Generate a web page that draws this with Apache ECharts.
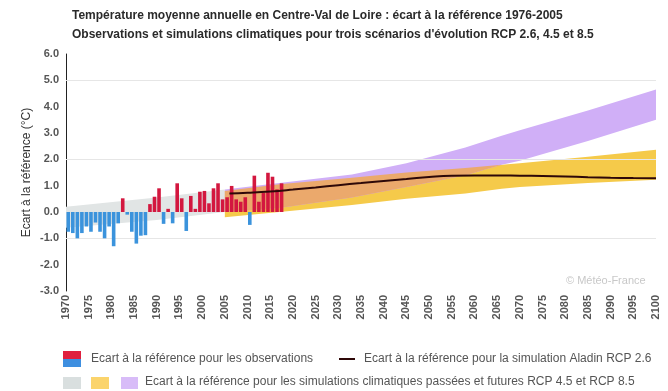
<!DOCTYPE html>
<html>
<head>
<meta charset="utf-8">
<script src="https://cdn.jsdelivr.net/npm/echarts@6/dist/echarts.min.js"></script>
<style>html,body{margin:0;padding:0;background:#fff}#c{width:668px;height:391px}</style>
</head>
<body>
<div id="c"></div>
<script>
// ---------- data ----------
const obsYears = [1970,1971,1972,1973,1974,1975,1976,1977,1978,1979,
  1980,1981,1982,1983,1984,1985,1986,1987,1988,1989,
  1990,1991,1992,1993,1994,1995,1996,1997,1998,1999,
  2000,2001,2002,2003,2004,2005,2006,2007,2008,2009,
  2010,2011,2012,2013,2014,2015,2016,2017];
const obsValues = [-0.75,-0.8,-1.0,-0.8,-0.55,-0.75,-0.4,-0.75,-1.0,-0.55,
  -1.3,-0.43,0.52,-0.1,-0.75,-1.2,-0.9,-0.88,0.3,0.58,
  0.9,-0.45,0.12,-0.43,1.09,0.52,-0.72,0.61,0.12,0.77,
  0.8,0.33,0.9,1.09,0.48,0.56,0.99,0.48,0.39,0.56,
  -0.49,1.38,0.39,0.72,1.49,1.34,0.86,1.09];

const histYears = [1970, 1990, 2005];
const histLow   = [-0.6, -0.3, 0.0];
const histHigh  = [0.2, 0.55, 0.85];

const scenYears = [2005, 2017, 2033, 2045, 2058, 2066, 2070, 2085, 2100];
const rcp45Low  = [-0.2, 0.0, 0.27, 0.5, 0.7, 0.88, 0.95, 1.1, 1.22];
const rcp45High = [0.8, 1.05, 1.3, 1.5, 1.67, 1.79, 1.85, 2.1, 2.36];
const rcp85Low  = [0.0, 0.15, 0.55, 0.95, 1.4, 1.79, 1.95, 2.7, 3.5];
const rcp85High = [0.85, 1.1, 1.42, 1.85, 2.45, 2.9, 3.1, 3.85, 4.65];

const aladinYears  = [2006,2010,2015,2020,2025,2030,2035,2040,2045,2050,2055,2060,2065,2070,2075,2080,2085,2090,2095,2100];
const aladinValues = [0.7,0.73,0.78,0.85,0.93,1.02,1.1,1.18,1.25,1.33,1.38,1.39,1.39,1.38,1.37,1.35,1.32,1.3,1.29,1.28];

const gridLineValues = [5, 2, -1];

const titleLines = [
  "Température moyenne annuelle en Centre-Val de Loire : écart à la référence 1976-2005",
  "Observations et simulations climatiques pour trois scénarios d'évolution RCP 2.6, 4.5 et 8.5"
];
const yAxisName = "Ecart à la référence (°C)";
const legendObs = "Ecart à la référence pour les observations";
const legendLine = "Ecart à la référence pour la simulation Aladin RCP 2.6";
const legendBands = "Ecart à la référence pour les simulations climatiques passées et futures RCP 4.5 et RCP 8.5";
const credit = "© Météo-France";

// ---------- styles ----------
const FONT = "'Liberation Sans', Arial, sans-serif";
const RED = '#d3173f', BLUE = '#3b93dc';
const GRAY = '#e1e5e5', YELLOW = '#f5ca4a', PURPLE = '#d0aff7', OVERLAP = '#eba96c';

function polygonSeries(name, xs, lo, hi, color, z) {
  return {
    type: 'custom', name: name, z: z, silent: true, animation: false,
    data: [[xs[0], lo[0]]],
    renderItem: function (params, api) {
      const pts = [];
      for (let i = 0; i < xs.length; i++) pts.push(api.coord([xs[i], hi[i]]));
      for (let i = xs.length - 1; i >= 0; i--) pts.push(api.coord([xs[i], lo[i]]));
      return { type: 'polygon', shape: { points: pts }, style: { fill: color } };
    }
  };
}
// overlap of the two scenario bands
const ovLow = scenYears.map((y, i) => Math.max(rcp45Low[i], rcp85Low[i]));
const ovHigh = scenYears.map((y, i) => Math.max(ovLow[i], Math.min(rcp45High[i], rcp85High[i])));

const chart = echarts.init(document.getElementById('c'));
chart.setOption({
  animation: false,
  textStyle: { fontFamily: FONT },
  title: {
    text: titleLines.join('\n'), left: 67, top: 1,
    textStyle: { fontSize: 12, fontWeight: 'bold', color: '#2a2a2a', lineHeight: 19, fontFamily: FONT }
  },
  grid: { left: 66, right: 12, top: 54, bottom: 100, containLabel: false },
  xAxis: {
    type: 'value', min: 1970, max: 2100, interval: 5,
    axisLine: { show: false }, axisTick: { show: false }, splitLine: { show: false },
    axisLabel: { rotate: 90, fontSize: 11, fontWeight: 'bold', color: '#555', margin: 4, fontFamily: FONT,
      formatter: v => String(v) }
  },
  yAxis: {
    type: 'value', min: -3, max: 6, interval: 1,
    name: yAxisName, nameLocation: 'middle', nameGap: 33, nameRotate: 90, nameMoveOverlap: false,
    nameTextStyle: { fontSize: 12, color: '#333', fontFamily: FONT },
    axisLine: { show: true, lineStyle: { color: '#222', width: 1 } },
    axisTick: { show: false }, splitLine: { show: false },
    axisLabel: { fontSize: 11, fontWeight: 'bold', color: '#555', margin: 7,
      formatter: v => v.toFixed(1), fontFamily: FONT }
  },
  series: [
    { type: 'line', data: [], z: 0, silent: true,
      markLine: { silent: true, symbol: 'none', label: { show: false },
        lineStyle: { color: '#e6e6e6', type: 'solid', width: 1 },
        data: gridLineValues.map(v => ({ yAxis: v })) } },
    polygonSeries('hist', histYears, histLow, histHigh, GRAY, 1),
    polygonSeries('rcp45', scenYears, rcp45Low, rcp45High, YELLOW, 2),
    polygonSeries('rcp85', scenYears, rcp85Low, rcp85High, PURPLE, 3),
    polygonSeries('overlap', scenYears, ovLow, ovHigh, OVERLAP, 4),
    { type: 'bar', z: 5, barWidth: 3.6,
      data: obsYears.map((y, i) => [y + 0.5, obsValues[i]]),
      itemStyle: { color: p => (p.value[1] >= 0 ? RED : BLUE) } },
    { type: 'line', z: 6, smooth: true, symbol: 'none',
      data: aladinYears.map((y, i) => [y, aladinValues[i]]),
      lineStyle: { color: '#2e0808', width: 2 } }
  ],
  graphic: [
    { type: 'text', left: 566, top: 275, style: { text: credit, fill: '#c8c8c8', font: '11px ' + FONT } },
    // legend row 1
    { type: 'rect', shape: { x: 63, y: 351, width: 18, height: 8 }, style: { fill: '#e0203e' } },
    { type: 'rect', shape: { x: 63, y: 359, width: 18, height: 8 }, style: { fill: '#3e8fe0' } },
    { type: 'text', left: 91, top: 353, style: { text: legendObs, fill: '#555', font: '12px ' + FONT } },
    { type: 'rect', shape: { x: 339, y: 358, width: 16, height: 2 }, style: { fill: '#2e0808' } },
    { type: 'text', left: 364, top: 353, style: { text: legendLine, fill: '#555', font: '12px ' + FONT } },
    // legend row 2
    { type: 'rect', shape: { x: 63, y: 377, width: 18, height: 12 }, style: { fill: '#d9dfdf' } },
    { type: 'rect', shape: { x: 91, y: 377, width: 18, height: 12 }, style: { fill: '#fbd46c' } },
    { type: 'rect', shape: { x: 121, y: 377, width: 17, height: 12 }, style: { fill: '#d8bcf8' } },
    { type: 'text', left: 145, top: 376, style: { text: legendBands, fill: '#555', font: '12px ' + FONT } }
  ]
});
</script>
</body>
</html>
